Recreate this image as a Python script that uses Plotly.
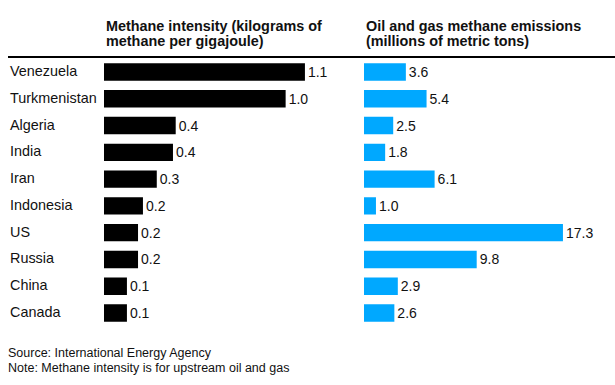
import plotly.graph_objects as go

countries = ["Venezuela", "Turkmenistan", "Algeria", "India", "Iran",
             "Indonesia", "US", "Russia", "China", "Canada"]
intensity = [1.104, 0.998, 0.394, 0.379, 0.29, 0.214, 0.187, 0.187, 0.126, 0.126]
emissions = [3.64, 5.44, 2.54, 1.84, 6.14, 1.04, 17.3, 9.8, 2.94, 2.64]

title_left = ["Methane intensity (kilograms of", "methane per gigajoule)"]
title_right = ["Oil and gas methane emissions", "(millions of metric tons)"]
source_lines = ["Source: International Energy Agency",
                "Note: Methane intensity is for upstream oil and gas"]

W, H = 615, 385
FONT = "Liberation Sans, Arial, sans-serif"

fig = go.Figure()
fig.add_trace(go.Bar(
    x=intensity, y=countries, orientation="h", xaxis="x", yaxis="y",
    marker=dict(color="#000000", line=dict(width=0)), width=0.65,
    texttemplate="%{x:.1f}", textposition="outside", cliponaxis=False,
    textfont=dict(family=FONT, size=14, color="#111111"), hoverinfo="skip"))
fig.add_trace(go.Bar(
    x=emissions, y=countries, orientation="h", xaxis="x2", yaxis="y2",
    marker=dict(color="#00A8FF", line=dict(width=0)), width=0.65,
    texttemplate="%{x:.1f}", textposition="outside", cliponaxis=False,
    textfont=dict(family=FONT, size=14, color="#111111"), hoverinfo="skip"))

ydom = [1 - 326.4 / H, 1 - 58.6 / H]
axis_common = dict(showgrid=False, zeroline=False, showticklabels=False,
                   showline=False, ticks="", fixedrange=True)

annotations = []
for i, c in enumerate(countries):
    annotations.append(dict(xref="paper", yref="y", x=8 / W, y=c, text=c,
                            xanchor="left", yanchor="middle", showarrow=False,
                            yshift=1,
                            font=dict(family=FONT, size=14.4, color="#111111")))
for x0, lines in ((104, title_left), (364, title_right)):
    for j, t in enumerate(lines):
        annotations.append(dict(xref="paper", yref="paper", x=x0 / W,
                                y=1 - (26 + 15 * j) / H, text="<b>%s</b>" % t,
                                xanchor="left", yanchor="middle", showarrow=False,
                                font=dict(family=FONT, size=14.4, color="#111111")))
for j, t in enumerate(source_lines):
    annotations.append(dict(xref="paper", yref="paper", x=6 / W,
                            y=1 - (353 + 15 * j) / H, text=t,
                            xanchor="left", yanchor="middle", showarrow=False,
                            font=dict(family=FONT, size=12.5, color="#111111")))

fig.update_layout(
    width=W, height=H, margin=dict(l=0, r=0, t=0, b=0),
    paper_bgcolor="white", plot_bgcolor="white", showlegend=False,
    bargap=0.35,
    xaxis=dict(domain=[104 / W, 330 / W], range=[0, 226 / 182.0], **axis_common),
    xaxis2=dict(domain=[364 / W, 1], range=[0, 251 / 11.5], **axis_common),
    yaxis=dict(domain=ydom, range=[9.5, -0.5], type="category", anchor="x", **axis_common),
    yaxis2=dict(domain=ydom, range=[9.5, -0.5], type="category", anchor="x2", **axis_common),
    annotations=annotations,
    shapes=[dict(type="line", xref="paper", yref="paper", x0=8 / W, x1=1,
                 y0=1 - 57 / H, y1=1 - 57 / H, line=dict(color="#000000", width=2))],
)

fig.write_html("out.html", config={"displayModeBar": False},
               post_script="document.body.style.margin='0';document.body.style.overflow='hidden';")
